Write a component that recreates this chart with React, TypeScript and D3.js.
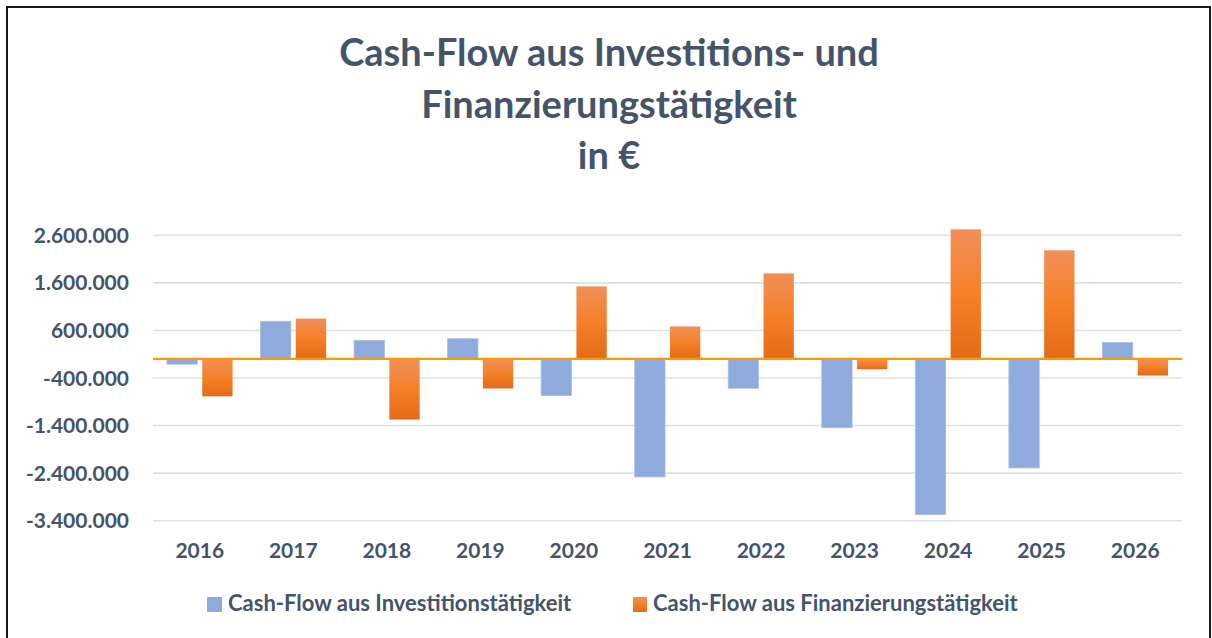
import React from "react";
import * as d3 from "d3";

const years = ["2016", "2017", "2018", "2019", "2020", "2021", "2022", "2023", "2024", "2025", "2026"];
const investition = [-110000, 793000, 390000, 425000, -770000, -2480000, -615000, -1445000, -3270000, -2290000, 347000];
const finanzierung = [-785000, 850000, -1274000, -620000, 1526000, 684000, 1800000, -215000, 2726000, 2284000, -347000];
const yTicks = [2600000, 1600000, 600000, -400000, -1400000, -2400000, -3400000];
const seriesNames = ["Cash-Flow aus Investitionstätigkeit", "Cash-Flow aus Finanzierungstätigkeit"];
const titleLines = ["Cash-Flow aus Investitions- und", "Finanzierungstätigkeit", "in €"];

const W = 1212;
const H = 638;
const FONT = "Lato, 'Open Sans', sans-serif";
const TEXT = "#44546A";

const locale = d3.formatLocale({ decimal: ",", thousands: ".", grouping: [3], currency: ["", "€"], minus: "-" });
const fmt = locale.format(",.0f");

export default function App() {
  const x = d3.scaleBand<string>().domain(years).range([153, 1182]).paddingInner(0).paddingOuter(0);
  const bw = x.bandwidth();
  const groupW = 65.6;
  const x1 = d3.scaleBand<string>().domain(["inv", "fin"]).range([0, groupW]).paddingInner(0.14).paddingOuter(0);
  const y = d3.scaleLinear().domain([-3400000, 2600000]).range([520.7, 235.3]);
  const y0 = y(0);

  const barRect = (v: number) => {
    const top = v >= 0 ? y(v) : y0;
    const h = Math.abs(y(v) - y0);
    return { top, h };
  };

  return (
    <svg width={W} height={H} style={{ position: "absolute", left: 0, top: 0, background: "#fff" }} fontFamily={FONT}>
      <defs>
        <linearGradient id="orangeGrad" x1="0" y1="0" x2="0" y2="1">
          <stop offset="0" stopColor="#F18F58" />
          <stop offset="0.5" stopColor="#F58028" />
          <stop offset="1" stopColor="#E46A18" />
        </linearGradient>
      </defs>
      <rect x={0} y={0} width={W} height={H} fill="#fff" />
      <rect x={7} y={7} width={1203} height={H + 10} fill="none" stroke="#000" strokeWidth={1.8} />

      {titleLines.map((t, i) => (
        <text key={i} x={609} y={66 + i * 51.5} textAnchor="middle" fontSize={38} fontWeight={700} fill={TEXT}>
          {t}
        </text>
      ))}

      {yTicks.map((t) => (
        <g key={t}>
          <line x1={153} x2={1182} y1={y(t)} y2={y(t)} stroke="#DDE1E7" strokeWidth={1.6} />
          <text x={129} y={y(t)} dy="0.36em" textAnchor="end" fontSize={21} fontWeight={700} fill={TEXT}>
            {fmt(t)}
          </text>
        </g>
      ))}

      {years.map((yr, i) => {
        const gx = x(yr)! + (bw - groupW) / 2;
        const a = barRect(investition[i]);
        const b = barRect(finanzierung[i]);
        return (
          <g key={yr}>
            <rect x={gx + x1("inv")!} y={a.top} width={x1.bandwidth()} height={a.h} fill="#8FAADC" stroke="#A8BDE4" strokeWidth={0.8} />
            <rect x={gx + x1("fin")!} y={b.top} width={x1.bandwidth()} height={b.h} fill="url(#orangeGrad)" />
            <text x={x(yr)! + bw / 2} y={558} textAnchor="middle" fontSize={21} fontWeight={700} fill={TEXT}>
              {yr}
            </text>
          </g>
        );
      })}

      <line x1={153} x2={1182} y1={y0} y2={y0} stroke="#F99A00" strokeWidth={2.2} />

      <g>
        <rect x={207} y={597} width={15} height={15} fill="#8FAADC" />
        <text x={228} y={611} fontSize={22} fontWeight={700} fill={TEXT}>
          {seriesNames[0]}
        </text>
        <rect x={633} y={597} width={14} height={15} fill="url(#orangeGrad)" />
        <text x={653} y={611} fontSize={22} fontWeight={700} fill={TEXT}>
          {seriesNames[1]}
        </text>
      </g>
    </svg>
  );
}
